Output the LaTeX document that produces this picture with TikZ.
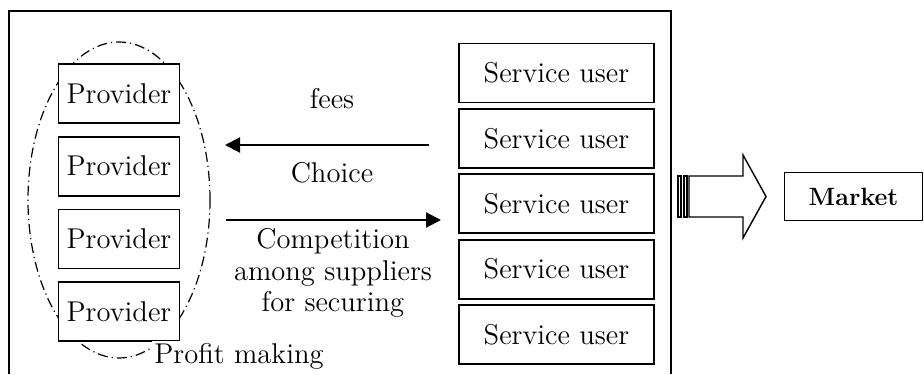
\documentclass[tikz,border=0pt]{standalone}
\usepackage{fontspec}
\usepackage{tikz}
\usetikzlibrary{positioning, arrows.meta}

\begin{document}
\begin{tikzpicture}[
  x=0.5pt, y=-0.5pt,
  font=\fontsize{14.3}{15.75}\selectfont,
  provbox/.style={rectangle, draw, fill=white, line width=0.9pt, minimum width=60.5pt,
    minimum height=29.5pt, inner sep=0pt},
  userbox/.style={rectangle, draw, line width=0.9pt, minimum width=97.5pt,
    minimum height=29.5pt, inner sep=0pt},
  lbl/.style={inner sep=0pt, align=center},
  arr/.style={-{Triangle[length=7.5pt, width=7.5pt]}, line width=1pt}
]
\useasboundingbox (0,0) rectangle (924,374);
% outer frame, open at the bottom
\draw[line width=0.7pt] (9,374) |- (671,11) -- (671,374);

% providers, grouped by the ellipse behind them
\draw[line width=0.6pt, dash pattern=on 5pt off 2pt on 0.6pt off 2pt]
  (119,200) ellipse [x radius=45.5pt, y radius=79pt];
\node[provbox] (prov1) at (119,93.3) {Provider};
\node[provbox, below=6pt of prov1] (prov2) {Provider};
\node[provbox, below=6pt of prov2] (prov3) {Provider};
\node[provbox, below=6pt of prov3] (prov4) {Provider};
\node[lbl, anchor=base west, fill=white, inner sep=1pt] (profit) at (152,363) {Profit making};

% service users
\node[userbox] (user1) at (556.5,73) {Service user};
\node[userbox, below=2.3pt of user1] (user2) {Service user};
\node[userbox, below=2.3pt of user2] (user3) {Service user};
\node[userbox, below=2.3pt of user3] (user4) {Service user};
\node[userbox, below=2.3pt of user4] (user5) {Service user};

% labels in between
\node[lbl, anchor=base] (fees) at (332,108) {fees};
\node[lbl, anchor=base] (choice) at (332,182) {Choice};
\node[lbl, anchor=north] (compet) at (333,228) {Competition\\among suppliers\\for securing};

\coordinate (feesR) at (429,145);
\coordinate (feesL) at (225,145);
\coordinate (compL) at (226,220);
\coordinate (compR) at (441,220);
\draw[arr] (feesR) -- (feesL);
\draw[arr] (compL) -- (compR);

% market
\node[draw, line width=0.7pt, minimum width=69pt, minimum height=24pt,
  font=\fontsize{12.5}{14}\selectfont\bfseries] (market) at (853.5,196.5) {Market};

% hollow arrow towards the market
\draw[line width=0.7pt] (689,176) -- (743,176) -- (743,155) -- (766,196.5)
  -- (743,238) -- (743,217) -- (689,217) -- cycle;
\draw[line width=0.7pt] (678,176) rectangle (681,217);
\draw[line width=0.7pt] (684,176) rectangle (687,217);
\end{tikzpicture}
\end{document}
